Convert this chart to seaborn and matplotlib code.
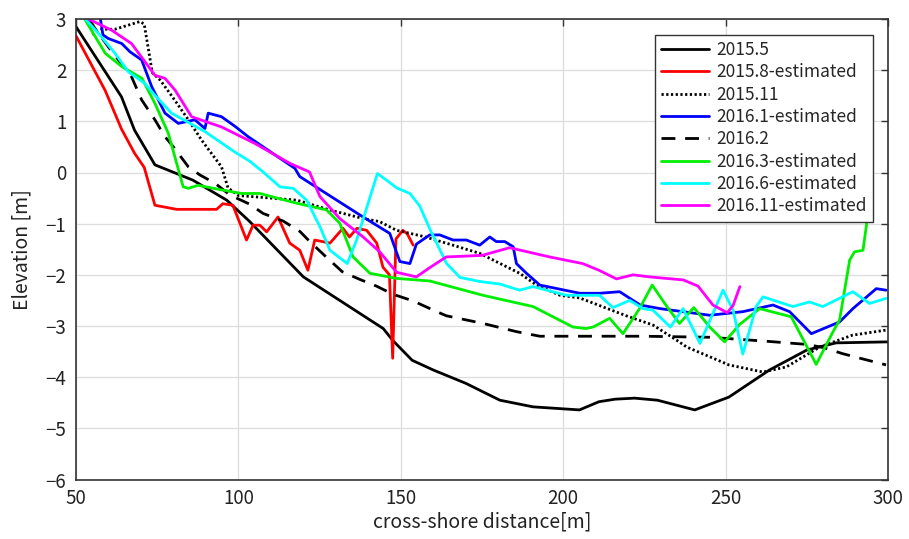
import matplotlib
matplotlib.use("Agg")
import matplotlib.pyplot as plt
import seaborn as sns
import pandas as pd

# ---- data ----
x_2015_5 = [50, 64, 68, 74.3, 86, 96.4, 103.5, 120, 144.6, 147.5, 153.5, 160, 170, 180.5, 190.7, 205, 211, 216, 222, 229, 240.5, 251, 263.5, 275, 284, 300]
y_2015_5 = [2.85, 1.48, 0.83, 0.15, -0.15, -0.54, -0.96, -2.04, -3.05, -3.28, -3.67, -3.86, -4.12, -4.45, -4.58, -4.64, -4.48, -4.43, -4.41, -4.45, -4.64, -4.39, -3.86, -3.47, -3.33, -3.31]

x_2015_8 = [50, 59, 64, 68, 71, 74.3, 81, 93.3, 95.2, 98.3, 102.5, 104.5, 106.6, 108.7, 112.2, 115.8, 118.9, 121.4, 123.5, 128.2, 132.2, 134.2, 136.5, 139.5, 142.6, 144.5, 146.5, 147.5, 148.5, 150.6, 152, 153.8]
y_2015_8 = [2.67, 1.6, 0.85, 0.38, 0.1, -0.64, -0.72, -0.72, -0.61, -0.64, -1.32, -1.03, -1.03, -1.16, -0.87, -1.38, -1.52, -1.91, -1.32, -1.38, -1.09, -1.26, -1.09, -1.13, -1.38, -1.85, -2.0, -3.63, -1.3, -1.13, -1.2, -1.42]

x_2015_11 = [55, 58, 62, 69.7, 71, 73.5, 76, 80, 84.6, 88.7, 94.8, 96.8, 100, 110, 118, 128, 138.4, 143.5, 148.7, 157, 165, 174.3, 186.6, 191.8, 199, 205, 219.4, 227.6, 235, 238, 251, 261.5, 268.7, 279, 289, 299.4]
y_2015_11 = [2.7, 2.8, 2.8, 2.95, 2.9, 1.95, 1.8, 1.45, 1.03, 0.63, 0.11, -0.3, -0.45, -0.5, -0.54, -0.73, -0.9, -0.96, -1.13, -1.25, -1.4, -1.58, -1.97, -2.2, -2.4, -2.45, -2.8, -2.98, -3.28, -3.41, -3.76, -3.9, -3.8, -3.41, -3.18, -3.08]

x_2016_1 = [57, 58.3, 59.9, 64.1, 66.6, 70.2, 73.3, 77.4, 81.5, 86.6, 89.7, 90.7, 94.8, 99, 103, 117.4, 118.9, 138.4, 146.6, 149.7, 152.8, 154.8, 158.9, 162, 166.1, 170.2, 174.3, 177.4, 179.4, 182, 184.6, 185.6, 188.7, 192.8, 205.1, 211.2, 217.4, 223.7, 229.8, 245.1, 255.3, 264.6, 269.7, 276.4, 285.1, 289.2, 296.4, 299.4]
y_2016_1 = [3.2, 2.69, 2.62, 2.52, 2.36, 2.2, 1.68, 1.16, 0.96, 1.03, 0.86, 1.16, 1.09, 0.9, 0.7, 0.08, -0.08, -0.87, -1.19, -1.74, -1.78, -1.4, -1.22, -1.22, -1.32, -1.32, -1.42, -1.26, -1.35, -1.35, -1.45, -1.78, -1.97, -2.2, -2.36, -2.36, -2.33, -2.59, -2.66, -2.79, -2.72, -2.59, -2.72, -3.15, -2.92, -2.66, -2.27, -2.3]

x_2016_2 = [54, 55.8, 59.9, 67.1, 70.2, 74.3, 77.4, 80, 84.6, 88.2, 92.8, 97.4, 103.5, 107.6, 113.8, 118.9, 122, 127, 132, 137.4, 142.5, 147.6, 153.8, 160, 164, 175.3, 185.6, 192.8, 225, 245, 263, 275, 280, 286, 292, 299.4]
y_2016_2 = [3.0, 2.82, 2.46, 1.87, 1.42, 1.03, 0.7, 0.5, 0.11, -0.05, -0.21, -0.44, -0.62, -0.8, -0.95, -1.15, -1.35, -1.65, -1.94, -2.09, -2.22, -2.38, -2.51, -2.69, -2.8, -2.95, -3.11, -3.2, -3.2, -3.22, -3.3, -3.36, -3.42, -3.54, -3.64, -3.76]

x_2016_3 = [52.3, 59, 64.1, 70.3, 74.3, 78.4, 83, 84.6, 87.6, 94.8, 101, 106.6, 117.9, 127.1, 131.2, 135.3, 140.5, 148.7, 158.9, 175.3, 190.7, 203, 207.1, 209.2, 214.3, 218.4, 223.5, 227.4, 231.7, 235.8, 240.2, 245.1, 249.7, 254.3, 260.5, 270.2, 277.9, 283, 285.1, 288.2, 289.7, 292.3, 293.3, 295]
y_2016_3 = [3.04, 2.33, 2.07, 1.84, 1.35, 0.77, -0.28, -0.31, -0.25, -0.34, -0.41, -0.41, -0.6, -0.73, -0.99, -1.65, -1.97, -2.07, -2.12, -2.4, -2.62, -3.02, -3.05, -3.02, -2.85, -3.15, -2.66, -2.2, -2.6, -2.95, -2.64, -3.02, -3.31, -2.97, -2.66, -2.82, -3.75, -3.12, -2.88, -1.71, -1.55, -1.52, -1.06, 0.0]

x_2016_6 = [52.3, 56.9, 62, 66.1, 71.2, 74.3, 79.4, 89.7, 98.9, 103.5, 107.6, 112.8, 116.9, 121, 125.1, 128.2, 133.5, 136.4, 142.8, 145.6, 148.7, 152.8, 155.8, 158.9, 164.1, 168.2, 174.3, 180.5, 186.6, 190.7, 201, 211.2, 215.3, 220.5, 224.6, 227.6, 233, 236.9, 242.1, 249.2, 252.3, 255.3, 259.4, 261.5, 270.7, 275.8, 279.9, 289.2, 294.3, 299.4]
y_2016_6 = [3.04, 2.72, 2.33, 1.97, 1.74, 1.51, 1.16, 0.8, 0.4, 0.22, 0.01, -0.28, -0.31, -0.54, -1.06, -1.52, -1.78, -1.32, -0.02, -0.15, -0.3, -0.41, -0.65, -1.1, -1.78, -2.05, -2.13, -2.18, -2.3, -2.23, -2.4, -2.4, -2.64, -2.5, -2.66, -2.69, -3.02, -2.66, -3.34, -2.3, -2.69, -3.55, -2.62, -2.43, -2.62, -2.53, -2.62, -2.33, -2.56, -2.46]

x_2016_11 = [53.8, 61, 67.1, 74.3, 77.4, 80.5, 85.6, 94.8, 105, 115.8, 121.9, 125.1, 131.2, 138.4, 143.5, 148.7, 154.8, 158.9, 164, 175, 183.5, 195.8, 206, 211, 216.4, 221.5, 226.6, 237, 241.5, 246.1, 250.5, 252.3, 254.4]
y_2016_11 = [3.0, 2.78, 2.52, 1.9, 1.84, 1.61, 1.09, 0.89, 0.57, 0.18, 0.01, -0.47, -0.9, -1.26, -1.55, -1.95, -2.04, -1.86, -1.65, -1.62, -1.47, -1.65, -1.78, -1.91, -2.08, -2.0, -2.04, -2.1, -2.22, -2.59, -2.74, -2.6, -2.23]

labels = ["2015.5", "2015.8-estimated", "2015.11", "2016.1-estimated",
          "2016.2", "2016.3-estimated", "2016.6-estimated", "2016.11-estimated"]
xs = [x_2015_5, x_2015_8, x_2015_11, x_2016_1, x_2016_2, x_2016_3, x_2016_6, x_2016_11]
ys = [y_2015_5, y_2015_8, y_2015_11, y_2016_1, y_2016_2, y_2016_3, y_2016_6, y_2016_11]

x_ticks = [50, 100, 150, 200, 250, 300]
y_ticks = [-6, -5, -4, -3, -2, -1, 0, 1, 2, 3]

# ---- style ----
colors = ["#000000", "#ff0000", "#000000", "#0000ff", "#000000", "#00ee00", "#00ffff", "#ff00ff"]
styles = ["-", "-", (0, (0.8, 0.9)), "-", (0, (5, 3.5)), "-", "-", "-"]

sns.set_theme(style="white")
plt.rcParams["font.family"] = ["Noto Sans CJK JP", "DejaVu Sans"]

fig = plt.figure(figsize=(9.09, 5.39), dpi=100)
ax = fig.add_axes([76 / 909, 1 - 479.5 / 539, (888 - 76) / 909, (479.5 - 19) / 539])

for x, y, lab, c, ls in zip(xs, ys, labels, colors, styles):
    df = pd.DataFrame({"x": x, "y": y})
    sns.lineplot(data=df, x="x", y="y", ax=ax, sort=False, estimator=None,
                 color=c, linestyle=ls, linewidth=2.0, label=lab)

ax.set_xlim(50, 300)
ax.set_ylim(-6, 3)
ax.set_xticks(x_ticks)
ax.set_yticks(y_ticks)
ax.grid(True, color="#dddddd", linewidth=0.9)
ax.set_axisbelow(True)
for s in ax.spines.values():
    s.set_color("#333333")
    s.set_linewidth(1.2)
ax.tick_params(direction="in", top=True, right=True, length=5, width=1, pad=6,
               labelsize=13.5, colors="#333333", labelcolor="#222222")
ax.tick_params(axis="y", pad=7)
ax.set_xlabel("cross-shore distance[m]", fontsize=14, color="#222222", labelpad=2)
ax.set_ylabel("Elevation [m]", fontsize=14, color="#222222", labelpad=9)

leg = ax.legend(loc="upper right", bbox_to_anchor=(873 / 909, 1 - 35 / 539),
                bbox_transform=fig.transFigure, borderaxespad=0,
                fontsize=12.5, frameon=True, fancybox=False, framealpha=1,
                edgecolor="#333333", handlelength=2.8, labelspacing=0.25,
                borderpad=0.35, handletextpad=0.4)
leg.get_frame().set_linewidth(1.0)

fig.savefig("out.png", dpi=100)
